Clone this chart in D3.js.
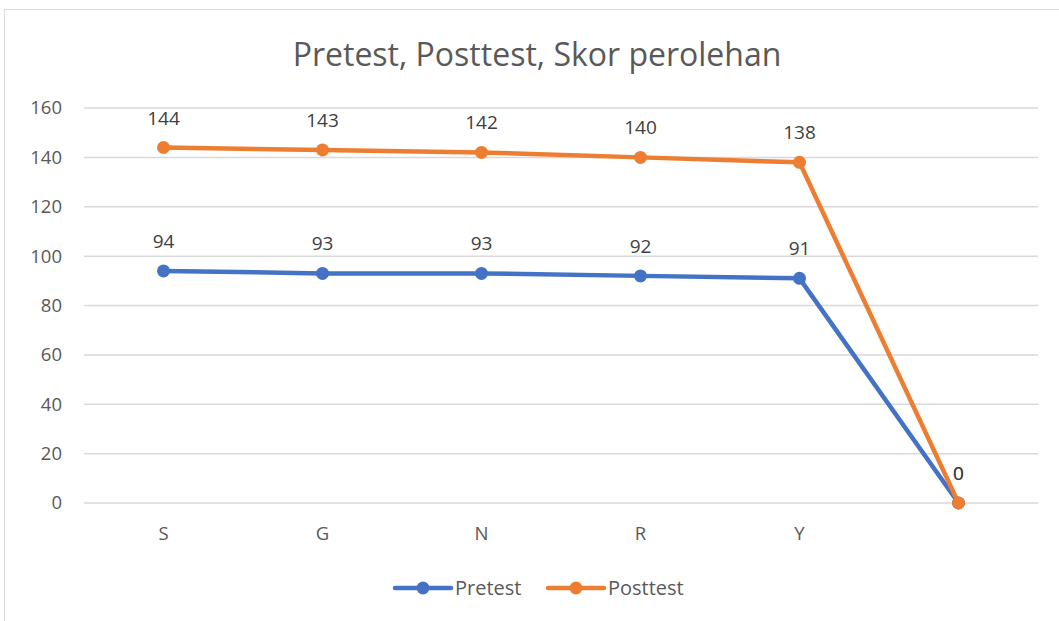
<!DOCTYPE html>
<html>
<head>
<meta charset="utf-8">
<script src="https://cdn.jsdelivr.net/npm/d3@7"></script>
<style>
  body { margin: 0; background: #fff; }
  text { font-family: "Open Sans", "Noto Sans", sans-serif; }
</style>
</head>
<body>
<svg id="chart" width="1059" height="621"></svg>
<script>
// data
var categories = ["S", "G", "N", "R", "Y", ""];
var pretest = [94, 93, 93, 92, 91, 0];
var posttest = [144, 143, 142, 140, 138, 0];
var yTicks = [0, 20, 40, 60, 80, 100, 120, 140, 160];

var series = [
  { name: "Pretest", values: pretest, color: "#4472C4" },
  { name: "Posttest", values: posttest, color: "#ED7D31" }
];

var svg = d3.select("#chart");

// chart frame
svg.append("rect")
  .attr("x", 4.5).attr("y", 9.5)
  .attr("width", 1070).attr("height", 630)
  .attr("fill", "#fff")
  .attr("stroke", "#d9d9d9");

var margin = { top: 108, left: 84, right: 21, bottom: 118 },
    width = 1059 - margin.left - margin.right,
    height = 621 - margin.top - margin.bottom;

var g = svg.append("g")
  .attr("transform", "translate(" + margin.left + "," + margin.top + ")");

var x = d3.scaleBand().domain(d3.range(categories.length)).range([0, width]);
var y = d3.scaleLinear().domain([0, 160]).range([height, 0]);

// gridlines
g.selectAll(".grid")
  .data(yTicks)
  .enter().append("line")
  .attr("x1", 0).attr("x2", width)
  .attr("y1", d => y(d)).attr("y2", d => y(d))
  .attr("stroke", "#d9d9d9")
  .attr("stroke-width", 1.5);

// y axis
var yAxis = g.append("g")
  .call(d3.axisLeft(y).tickValues(yTicks).tickSize(0).tickPadding(22));
yAxis.select(".domain").remove();
yAxis.selectAll("text")
  .style("font-size", "18.5px")
  .style("font-family", "'Open Sans', sans-serif")
  .attr("fill", "#595959");

// x axis
var xAxis = g.append("g")
  .attr("transform", "translate(0," + height + ")")
  .call(d3.axisBottom(x).tickFormat(i => categories[i]).tickSize(0).tickPadding(24));
xAxis.select(".domain").remove();
xAxis.selectAll("text")
  .style("font-size", "18.5px")
  .style("font-family", "'Open Sans', sans-serif")
  .attr("fill", "#595959");

var line = d3.line()
  .x((d, i) => x(i) + x.bandwidth() / 2)
  .y(d => y(d));

series.forEach(function(s) {
  g.append("path")
    .datum(s.values)
    .attr("d", line)
    .attr("fill", "none")
    .attr("stroke", s.color)
    .attr("stroke-width", 4.5)
    .attr("stroke-linejoin", "round");

  g.selectAll(null)
    .data(s.values)
    .enter().append("circle")
    .attr("cx", (d, i) => x(i) + x.bandwidth() / 2)
    .attr("cy", d => y(d))
    .attr("r", 6.5)
    .attr("fill", s.color);

  g.selectAll(null)
    .data(s.values)
    .enter().append("text")
    .attr("x", (d, i) => x(i) + x.bandwidth() / 2)
    .attr("y", d => y(d) - 23)
    .attr("text-anchor", "middle")
    .style("font-size", "19px")
    .attr("fill", "#404040")
    .text(d => d);
});

// title
svg.append("text")
  .attr("x", 537)
  .attr("y", 66)
  .attr("text-anchor", "middle")
  .style("font-size", "32px")
  .attr("fill", "#595959")
  .text("Pretest, Posttest, Skor perolehan");

// legend
var legend = svg.append("g").attr("transform", "translate(395,588)");
var lx = 0;
series.forEach(function(s) {
  var item = legend.append("g").attr("transform", "translate(" + lx + ",0)");
  item.append("line")
    .attr("x1", 0).attr("x2", 56)
    .attr("stroke", s.color)
    .attr("stroke-width", 4.5)
    .attr("stroke-linecap", "round");
  item.append("circle")
    .attr("cx", 28).attr("r", 6.5)
    .attr("fill", s.color);
  item.append("text")
    .attr("x", 60).attr("y", 7)
    .style("font-size", "20px")
    .attr("fill", "#595959")
    .text(s.name);
  lx += 153;
});
</script>
</body>
</html>
